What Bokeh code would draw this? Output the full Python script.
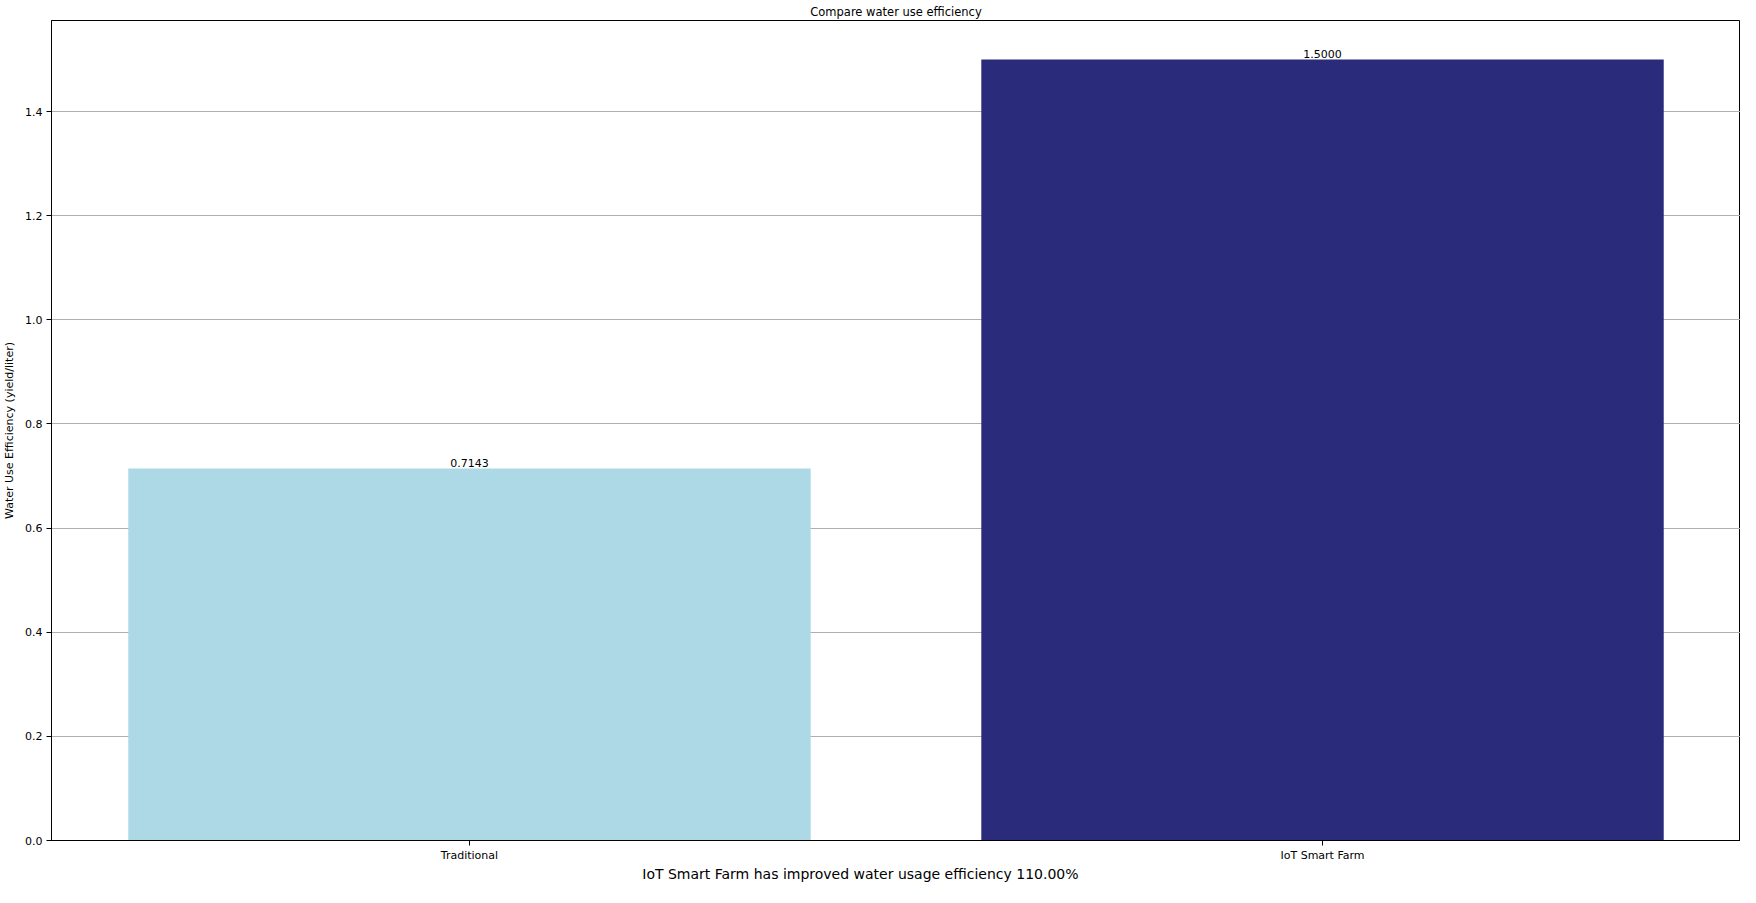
from bokeh.plotting import figure
from bokeh.models import ColumnDataSource, Title, FactorRange, SingleIntervalTicker, NumeralTickFormatter
from bokeh.core.properties import value
from bokeh.embed import file_html
from bokeh.resources import INLINE

categories = ["Traditional", "IoT Smart Farm"]
efficiency = [0.7143, 1.5000]
bar_colors = ["#ADD8E6", "#2A2C7B"]
labels = ["0.7143", "1.5000"]
title_text = "Compare water use efficiency"
y_label = "Water Use Efficiency (yield/liter)"
x_label = "IoT Smart Farm has improved water usage efficiency 110.00%"

FONT = "DejaVu Sans"

src = ColumnDataSource(dict(cat=categories, val=efficiency, color=bar_colors, lab=labels))

p = figure(x_range=FactorRange(*categories, range_padding=-0.01, range_padding_units="absolute",
                               factor_padding=0.0),
           y_range=(0, 1.575),
           width=1740, height=884, output_backend="svg", toolbar_location=None,
           min_border_left=42, min_border_right=0, min_border_top=13, min_border_bottom=0)

p.vbar(x="cat", top="val", width=0.8, color="color", source=src, line_color=None)
p.text(x="cat", y="val", text="lab", source=src, text_align="center", text_baseline="bottom",
       y_offset=-2, text_font=value(FONT), text_font_size="11px", text_color="black")

p.title = Title(text=title_text, align="center", text_font=FONT, text_font_size="11.5px",
                text_font_style="normal", standoff=4, offset=0)
p.title.text_color = "black"

p.xgrid.visible = False
p.ygrid.grid_line_color = "#b0b0b0"
p.ygrid.grid_line_width = 1
p.ygrid.ticker = SingleIntervalTicker(interval=0.2)
p.yaxis.ticker = SingleIntervalTicker(interval=0.2)
p.yaxis.formatter = NumeralTickFormatter(format="0.0")

for ax in (p.xaxis[0], p.yaxis[0]):
    ax.axis_line_color = "black"
    ax.axis_line_width = 1
    ax.major_tick_line_color = "black"
    ax.major_tick_out = 5
    ax.major_tick_in = 0
    ax.minor_tick_line_color = None
    ax.major_label_text_font = FONT
    ax.major_label_text_font_size = "11px"
    ax.major_label_text_color = "black"
    ax.axis_label_text_font = FONT
    ax.axis_label_text_font_style = "normal"
    ax.axis_label_text_color = "black"

p.yaxis.axis_label = y_label
p.yaxis.axis_label_text_font_size = "11px"
p.yaxis.axis_label_standoff = 6
p.yaxis.major_label_standoff = 4

# x label sits slightly left of the frame centre in the reference; trailing
# no-break spaces shift the centred axis label to the left
p.xaxis.axis_label = x_label + "\u00a0" * 16
p.xaxis.axis_label_text_font_size = "14px"
p.xaxis.axis_label_standoff = 1
p.xaxis.major_label_standoff = 3
p.xaxis.major_label_text_line_height = 1.0
p.xaxis.axis_label_text_line_height = 1.0

p.outline_line_color = "black"
p.outline_line_width = 1
p.outline_line_alpha = 1

open("out.html", "w").write(file_html(p, INLINE))
